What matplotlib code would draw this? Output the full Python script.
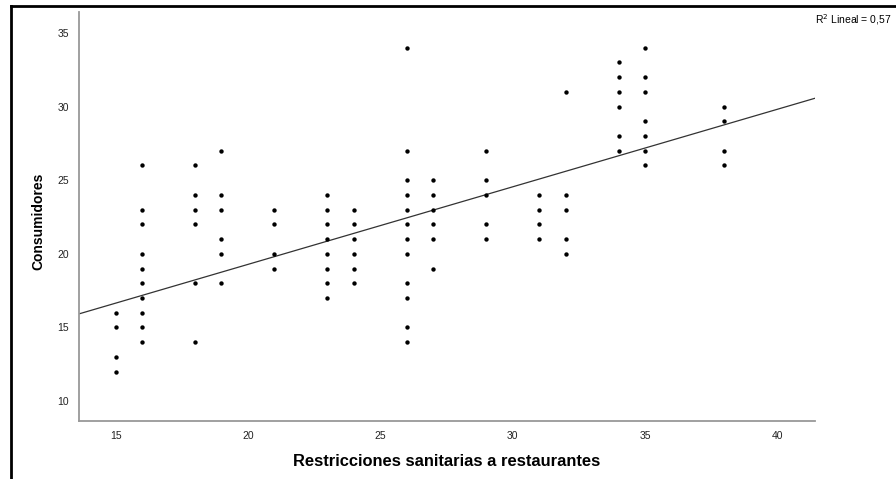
import numpy as np
import matplotlib
matplotlib.use("Agg")
import matplotlib.pyplot as plt
from matplotlib.lines import Line2D

plt.rcParams['font.family'] = ['Liberation Sans', 'DejaVu Sans']

# restricciones (x) -> consumidores (y)
x_vals = [15, 16, 18, 19, 21, 23, 24, 26, 27, 29, 31, 32, 34, 35, 38]
y_groups = [
    [16, 15, 13, 12],
    [26, 23, 22, 20, 19, 18, 17, 16, 15, 14],
    [26, 24, 23, 22, 18, 14],
    [27, 24, 23, 21, 20, 18],
    [23, 22, 20, 19],
    [24, 23, 22, 21, 20, 19, 18, 17],
    [23, 22, 21, 20, 19, 18],
    [34, 27, 25, 24, 23, 22, 21, 20, 18, 17, 15, 14],
    [25, 24, 23, 22, 21, 19],
    [27, 25, 24, 22, 21],
    [24, 23, 22, 21],
    [31, 24, 23, 21, 20],
    [33, 32, 31, 30, 28, 27],
    [34, 32, 31, 29, 28, 27, 26],
    [30, 29, 27, 26],
]
# recta de ajuste lineal (hay puntos repetidos ocultos)
fit_slope = 0.527
fit_intercept = 8.74
x_ticks = [15, 20, 25, 30, 35, 40]
y_ticks = [10, 15, 20, 25, 30, 35]
r2_label = "R$^2$ Lineal = 0,57"

xs = np.array([x for x, g in zip(x_vals, y_groups) for _ in g], dtype=float)
ys = np.array([v for g in y_groups for v in g], dtype=float)

fig = plt.figure(figsize=(8.96, 4.79), dpi=100)
ax = fig.add_axes([0.0882, 0.1211, 0.8214, 0.8539])

ax.scatter(xs, ys, s=10, color='black', linewidths=0, zorder=3)

xmin, xmax = 13.62, 41.42
lx = np.array([xmin, xmax])
ax.plot(lx, fit_intercept + fit_slope * lx, color='#333333', lw=0.9, zorder=2)

ax.set_xlim(xmin, xmax)
ax.set_ylim(8.64, 36.43)
ax.set_xticks(x_ticks)
ax.set_yticks(y_ticks)
ax.tick_params(length=0, labelsize=7.5, pad=7, colors='#222222')

for s in ['top', 'right']:
    ax.spines[s].set_visible(False)
for s in ['left', 'bottom']:
    ax.spines[s].set_color('#999999')
    ax.spines[s].set_linewidth(1.3)

fig.text(447 / 896, 1 - 462 / 479, "Restricciones sanitarias a restaurantes",
         ha='center', va='center', fontsize=11.9, fontweight='bold')
fig.text(38 / 896, 1 - 221 / 479, "Consumidores", rotation=90,
         ha='center', va='center', fontsize=10, fontweight='bold')
fig.text(815 / 896, 1 - 20 / 479, r2_label, ha='left', va='center', fontsize=7.5)

# marco exterior
fig.add_artist(Line2D([11 / 896, 1], [1 - 6 / 479, 1 - 6 / 479], color='black', lw=2,
                      transform=fig.transFigure))
fig.add_artist(Line2D([11 / 896, 11 / 896], [0, 1 - 6 / 479], color='black', lw=2,
                      transform=fig.transFigure))

fig.savefig("out.png", dpi=100)
